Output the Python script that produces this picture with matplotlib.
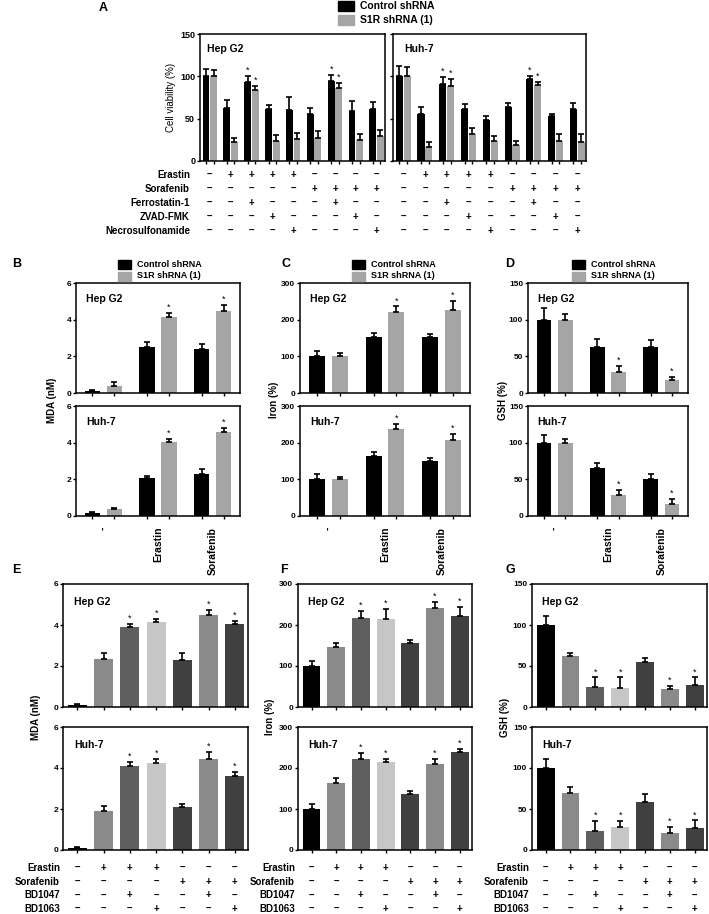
import matplotlib.pyplot as plt
import numpy as np
from matplotlib.patches import Rectangle
from matplotlib.transforms import blended_transform_factory

plt.rcParams['font.family'] = ['Liberation Sans', 'DejaVu Sans']
plt.rcParams['font.weight'] = 'bold'
plt.rcParams['axes.linewidth'] = 1.1
plt.rcParams['xtick.direction'] = 'out'
plt.rcParams['ytick.direction'] = 'out'

W, H = 709, 914

#%% data, panel A (cell viability %)
a_ctrl_hep = [100, 63, 93, 62, 60, 55, 95, 59, 62]
a_ctrl_hep_err = [9, 9, 7, 4, 16, 8, 7, 12, 8]
a_s1r_hep = [100, 22, 84, 24, 26, 27, 86, 25, 29]
a_s1r_hep_err = [8, 5, 4, 7, 7, 9, 6, 7, 8]
a_ctrl_huh = [100, 55, 91, 62, 48, 64, 97, 53, 62]
a_ctrl_huh_err = [12, 9, 8, 5, 5, 4, 3, 3, 7]
a_s1r_huh = [100, 17, 88, 32, 24, 19, 90, 24, 23]
a_s1r_huh_err = [11, 5, 9, 7, 6, 5, 3, 8, 9]
a_star = [2, 6]
a_rows = ["Erastin", "Sorafenib", "Ferrostatin-1", "ZVAD-FMK", "Necrosulfonamide"]
a_signs = ["-++++----",
           "-----++++",
           "--+---+--",
           "---+---+-",
           "----+---+"]

#%% data, panels B-D (control vs S1R shRNA)
bd_groups = ["-", "Erastin", "Sorafenib"]
b_ctrl_hep, b_ctrl_hep_err = [0.13, 2.49, 2.38], [0.04, 0.27, 0.31]
b_s1r_hep, b_s1r_hep_err = [0.40, 4.15, 4.50], [0.18, 0.21, 0.32]
b_ctrl_huh, b_ctrl_huh_err = [0.18, 2.05, 2.27], [0.06, 0.15, 0.31]
b_s1r_huh, b_s1r_huh_err = [0.36, 4.04, 4.58], [0.06, 0.16, 0.22]

c_ctrl_hep, c_ctrl_hep_err = [100, 152, 154], [14, 13, 8]
c_s1r_hep, c_s1r_hep_err = [100, 221, 227], [10, 15, 23]
c_ctrl_huh, c_ctrl_huh_err = [101, 165, 149], [14, 10, 9]
c_s1r_huh, c_s1r_huh_err = [101, 236, 206], [6, 14, 17]

d_ctrl_hep, d_ctrl_hep_err = [100, 63, 63], [16, 11, 9]
d_s1r_hep, d_s1r_hep_err = [100, 29, 18], [8, 8, 4]
d_ctrl_huh, d_ctrl_huh_err = [100, 66, 51], [10, 6, 6]
d_s1r_huh, d_s1r_huh_err = [100, 28, 17], [5, 7, 6]
bd_star = [1, 2]

#%% data, panels E-G (BD1047 / BD1063)
eg_rows = ["Erastin", "Sorafenib", "BD1047", "BD1063"]
eg_signs = ["-+++---",
            "----+++",
            "--+--+-",
            "---+--+"]
e_hep, e_hep_err = [0.11, 2.34, 3.89, 4.15, 2.30, 4.48, 4.05], [0.04, 0.28, 0.14, 0.16, 0.34, 0.27, 0.16]
e_huh, e_huh_err = [0.11, 1.91, 4.11, 4.24, 2.12, 4.46, 3.61], [0.05, 0.24, 0.19, 0.22, 0.13, 0.31, 0.21]
f_hep, f_hep_err = [100, 146, 218, 214, 155, 241, 221], [11, 11, 16, 24, 9, 16, 24]
f_huh, f_huh_err = [100, 163, 221, 214, 136, 210, 239], [13, 12, 16, 8, 8, 11, 8]
g_hep, g_hep_err = [100, 62, 25, 23, 55, 22, 27], [11, 4, 11, 13, 5, 4, 9]
g_huh, g_huh_err = [100, 69, 23, 28, 58, 21, 27], [11, 8, 12, 7, 10, 7, 9]
eg_star = [2, 3, 5, 6]

ctrl_col = "#000000"
s1r_col = "#a5a5a5"
eg_cols = ["#000000", "#8a8a8a", "#5f5f5f", "#c6c6c6", "#404040", "#8a8a8a", "#404040"]

fig = plt.figure(figsize=(W / 100, H / 100), dpi=100)


def add_ax(l, t, r, b):
    """axes from pixel box (left, top, right, bottom)"""
    return fig.add_axes([l / W, 1 - b / H, (r - l) / W, (b - t) / H])


def fy(y):
    return 1 - y / H


def draw_bars(ax, x, vals, errs, cols, width, stars, ymax, fs_tick):
    vals = np.asarray(vals, float)
    errs = np.asarray(errs, float)
    ax.bar(x, vals, width=width, color=cols, zorder=2)
    ax.errorbar(x, vals, yerr=[np.zeros_like(errs), errs], fmt="none",
                ecolor="black", elinewidth=1.2, capsize=2.2, capthick=1.2, zorder=3)
    for i in stars:
        ax.text(x[i], vals[i] + errs[i] + ymax * 0.01, "*", ha="center",
                va="bottom", fontsize=6.5, fontweight="normal")
    ax.set_ylim(0, ymax)
    ax.set_xticks(x)
    ax.set_xticklabels([])
    ax.tick_params(axis="both", length=2.5, width=1, labelsize=fs_tick, pad=1)


def sign_table(ax, xs, rows, signs, y0, dy, label_x, fs):
    tr = blended_transform_factory(ax.transData, fig.transFigure)
    for r, (name, s) in enumerate(zip(rows, signs)):
        y = fy(y0 + r * dy)
        if label_x is not None:
            fig.text(label_x / W, y, name, ha="right", va="center", fontsize=fs)
        for xi, ch in zip(xs, s):
            ax.text(xi, y, "+" if ch == "+" else "\u2013", transform=tr,
                    ha="center", va="center", fontsize=fs)


def legend_box(x, y, w, h, gap, fs, txt_dx):
    for k, (lab, col) in enumerate([("Control shRNA", ctrl_col), ("S1R shRNA (1)", s1r_col)]):
        yy = y + k * gap
        fig.add_artist(Rectangle((x / W, fy(yy + h / 2)), w / W, h / H,
                                 transform=fig.transFigure, color=col))
        fig.text((x + w + txt_dx) / W, fy(yy), lab, ha="left", va="center", fontsize=fs)


#%% panel A
xa = np.arange(9)
off_a, wid_a = 0.18, 0.33
ax_a1 = add_ax(200, 34, 385, 161)
ax_a2 = add_ax(393, 34, 586, 161)
for ax, c, ce, s, se in [(ax_a1, a_ctrl_hep, a_ctrl_hep_err, a_s1r_hep, a_s1r_hep_err),
                         (ax_a2, a_ctrl_huh, a_ctrl_huh_err, a_s1r_huh, a_s1r_huh_err)]:
    xx = np.concatenate([xa - off_a, xa + off_a])
    draw_bars(ax, xx, np.concatenate([c, s]), np.concatenate([ce, se]),
              [ctrl_col] * 9 + [s1r_col] * 9, wid_a,
              a_star + [i + 9 for i in a_star], 150, 6.5)
    ax.set_xlim(-0.47, 8.4)
    ax.set_yticks([0, 50, 100, 150])
    sign_table(ax, xa, a_rows, a_signs, 175, 14, 190 if ax is ax_a1 else None, 7)
ax_a2.set_yticklabels([])
ax_a1.text(0.04, 0.86, "Hep G2", transform=ax_a1.transAxes, fontsize=7.5)
ax_a2.text(0.06, 0.86, "Huh-7", transform=ax_a2.transAxes, fontsize=7.5)
ax_a1.set_ylabel("Cell viability (%)", fontsize=7, labelpad=3)
fig.text(103 / W, fy(8), "A", fontsize=9, ha="center", va="center")
legend_box(338, 6, 16, 10, 14, 7.5, 6)

#%% panels B-D
xb = np.arange(3)
off_b, wid_b = 0.2, 0.28
bd_specs = [
    ("B", 12, 76, 240, 6, [0, 2, 4, 6], "MDA (nM)", 52, 118,
     (b_ctrl_hep, b_ctrl_hep_err, b_s1r_hep, b_s1r_hep_err),
     (b_ctrl_huh, b_ctrl_huh_err, b_s1r_huh, b_s1r_huh_err)),
    ("C", 281, 300, 470, 300, [0, 100, 200, 300], "Iron (%)", 274, 352,
     (c_ctrl_hep, c_ctrl_hep_err, c_s1r_hep, c_s1r_hep_err),
     (c_ctrl_huh, c_ctrl_huh_err, c_s1r_huh, c_s1r_huh_err)),
    ("D", 505, 528, 688, 150, [0, 50, 100, 150], "GSH (%)", 503, 572,
     (d_ctrl_hep, d_ctrl_hep_err, d_s1r_hep, d_s1r_hep_err),
     (d_ctrl_huh, d_ctrl_huh_err, d_s1r_huh, d_s1r_huh_err)),
]
for letter, lx, l, r, ymax, yt, ylab, ylx, legx, hep, huh in bd_specs:
    for (t, b), dat, name in [((283, 393), hep, "Hep G2"), ((406, 516), huh, "Huh-7")]:
        ax = add_ax(l, t, r, b)
        c, ce, s, se = dat
        xx = np.concatenate([xb - off_b, xb + off_b])
        draw_bars(ax, xx, np.concatenate([c, s]), np.concatenate([ce, se]),
                  [ctrl_col] * 3 + [s1r_col] * 3, wid_b,
                  [i + 3 for i in bd_star], ymax, 6)
        ax.set_xlim(-0.5, 2.5)
        ax.set_yticks(yt)
        ax.text(0.06, 0.83, name, transform=ax.transAxes, fontsize=7.5)
        if name == "Huh-7":
            tr = blended_transform_factory(ax.transData, fig.transFigure)
            for xi, g in zip(xb, bd_groups):
                ax.text(xi, fy(527), g, transform=tr, rotation=90,
                        ha="center", va="top", fontsize=7.5)
    fig.text(ylx / W, fy(400), ylab, rotation=90, ha="center", va="center", fontsize=7)
    fig.text(lx / W, fy(264), letter, fontsize=9, ha="left", va="center")
    legend_box(legx, 264, 13, 9, 12, 6.5, 6)

#%% panels E-G
xe = np.arange(7)
eg_specs = [
    ("E", 12, 63, 248, 6, [0, 2, 4, 6], "MDA (nM)", 36, (e_hep, e_hep_err), (e_huh, e_huh_err)),
    ("F", 280, 298, 472, 300, [0, 100, 200, 300], "Iron (%)", 270, (f_hep, f_hep_err), (f_huh, f_huh_err)),
    ("G", 505, 532, 707, 150, [0, 50, 100, 150], "GSH (%)", 505, (g_hep, g_hep_err), (g_huh, g_huh_err)),
]
for letter, lx, l, r, ymax, yt, ylab, ylx, hep, huh in eg_specs:
    for (t, b), dat, name in [((584, 707), hep, "Hep G2"), ((727, 850), huh, "Huh-7")]:
        ax = add_ax(l, t, r, b)
        draw_bars(ax, xe, dat[0], dat[1], eg_cols, 0.72, eg_star, ymax, 6)
        ax.set_xlim(-0.55, 6.5)
        ax.set_yticks(yt)
        ax.text(0.06, 0.83, name, transform=ax.transAxes, fontsize=7.5)
        if name == "Huh-7":
            sign_table(ax, xe, eg_rows, eg_signs, 868, 13.7, l - 3, 7)
    fig.text(ylx / W, fy(717), ylab, rotation=90, ha="center", va="center", fontsize=7)
    fig.text(lx / W, fy(570), letter, fontsize=9, ha="left", va="center")

fig.savefig("out.png", dpi=100)
